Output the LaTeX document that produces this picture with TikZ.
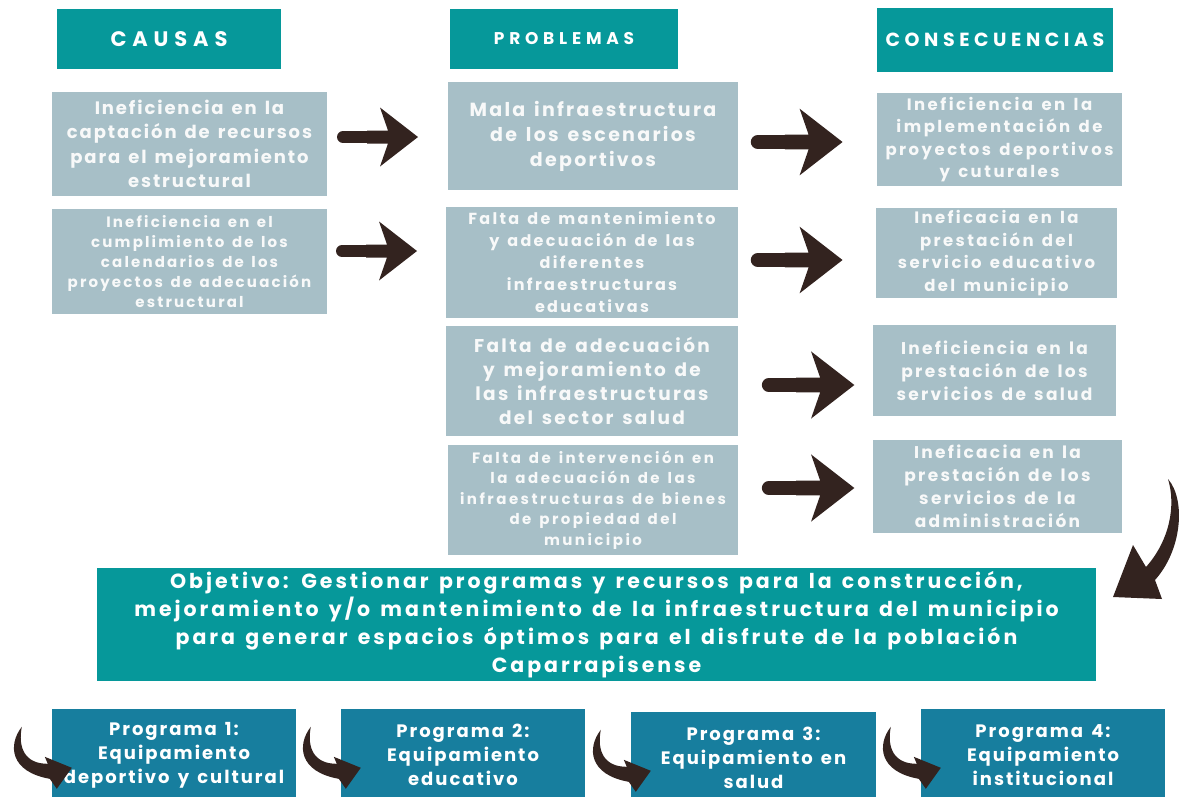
\documentclass[tikz,border=0pt]{standalone}
\usepackage{fontspec}
\setmainfont{Poppins}[LetterSpace=6,WordSpace=1.4]
\usetikzlibrary{calc}
\definecolor{teal1}{RGB}{6,152,154}
\definecolor{gboxc}{RGB}{167,191,199}
\definecolor{progc}{RGB}{23,126,158}
\definecolor{arrc}{RGB}{51,35,31}
\definecolor{txtw}{RGB}{248,249,249}
\newcommand{\ls}[1]{\addfontfeature{LetterSpace=#1}}
\tikzset{
  hdr/.style={fill=teal1, text=white, inner sep=0pt, align=center},
  gb/.style={fill=gboxc, text=txtw, inner sep=0pt, align=center},
  objbox/.style={fill=teal1, text=white, inner sep=0pt, align=center,
    font=\bfseries\fontsize{20.5}{28}\selectfont\ls{14.5}},
  progbox/.style={fill=progc, text=white, inner sep=0pt, align=center,
    font=\bfseries\fontsize{18}{24}\selectfont\ls{11}},
  blockarr/.pic={
    \fill[arrc] (30,-6.5) -- (51,-6.5) -- (43,-29.5) -- (81,0) -- (43,29.5) -- (51,6.5) -- (30,6.5) -- cycle;
    \draw[arrc, line cap=round] (6,0) -- (40,0);
  },
  smallcurve/.pic={
    \fill[arrc] (-30,18) .. controls (-44,36) and (-42,63) .. (-2,70) -- (5,80) -- (20,59) -- (-7,48) -- (-4,55) .. controls (-27,55) and (-34,39) .. (-30,18) -- cycle;
  }
}
\begin{document}
\begin{tikzpicture}[x=1pt,y=-1pt]
\useasboundingbox (0,0) rectangle (1188,796);
\fill[white] (0,0) rectangle (1188,796);

% headers
\node[hdr, minimum width=224, minimum height=60, font=\bfseries\fontsize{21}{24}\selectfont\ls{28}] (hc) at (169,39) {CAUSAS};
\node[hdr, minimum width=228, minimum height=60, font=\bfseries\fontsize{17}{20}\selectfont\ls{28}] (hp) at (564,39) {PROBLEMAS};
\node[hdr, minimum width=236, minimum height=64, font=\bfseries\fontsize{19}{24}\selectfont\ls{24}] (hq) at (995,40) {CONSECUENCIAS};

% causes
\node[gb, minimum width=275, minimum height=104, font=\bfseries\fontsize{18}{24.5}\selectfont\ls{10.5}] (c1) at (189.5,144)
 {Ineficiencia en la\\captación de recursos\\para el mejoramiento\\estructural};
\node[gb, minimum width=275, minimum height=105, font=\bfseries\fontsize{15}{20}\selectfont\ls{14.5}] (c2) at (189.5,261.5)
 {Ineficiencia en el\\cumplimiento de los\\calendarios de los\\proyectos de adecuación\\estructural};

% problems
\node[gb, minimum width=290, minimum height=108, font=\bfseries\fontsize{19}{25}\selectfont\ls{12}] (p1) at (593,136)
 {Mala infraestructura\\de los escenarios\\deportivos};
\node[gb, minimum width=292, minimum height=111, font=\bfseries\fontsize{16}{22}\selectfont\ls{14.5}] (p2) at (592,262.5)
 {Falta de mantenimiento\\y adecuación de las\\diferentes\\infraestructuras\\educativas};
\node[gb, minimum width=292, minimum height=110, font=\bfseries\fontsize{18.5}{24}\selectfont\ls{12.5}] (p3) at (592,381)
 {Falta de adecuación\\y mejoramiento de\\las infraestructuras\\del sector salud};
\node[gb, minimum width=290, minimum height=110, font=\bfseries\fontsize{15}{20.5}\selectfont\ls{16.5}] (p4) at (593,500)
 {Falta de intervención en\\la adecuación de las\\infraestructuras de bienes\\de propiedad del\\municipio};

% consequences
\node[gb, minimum width=245, minimum height=93, font=\bfseries\fontsize{16.5}{22.3}\selectfont\ls{15}] (q1) at (999.5,139.5)
 {Ineficiencia en la\\implementación de\\proyectos deportivos\\y cuturales};
\node[gb, minimum width=241, minimum height=90, font=\bfseries\fontsize{16.5}{22.5}\selectfont\ls{14.5}] (q2) at (996.5,253)
 {Ineficacia en la\\prestación del\\servicio educativo\\del municipio};
\node[gb, minimum width=243, minimum height=91, font=\bfseries\fontsize{17}{23}\selectfont\ls{13.5}] (q3) at (994.5,370.5)
 {Ineficiencia en la\\prestación de los\\servicios de salud};
\node[gb, minimum width=249, minimum height=93, font=\bfseries\fontsize{17}{23}\selectfont\ls{13.5}] (q4) at (997.5,486.5)
 {Ineficacia en la\\prestación de los\\servicios de la\\administración};

% objective
\node[objbox, minimum width=999, minimum height=113] (obj) at (596.5,624.5)
 {Objetivo: Gestionar programas y recursos para la construcción,\\mejoramiento y/o mantenimiento de la infraestructura del municipio\\para generar espacios óptimos para el disfrute de la población\\Caparrapisense};

% programs
\node[progbox, minimum width=244, minimum height=92] (g1) at (174,755) {Programa 1:\\Equipamiento\\deportivo y cultural};
\node[progbox, minimum width=244, minimum height=92] (g2) at (463,755) {Programa 2:\\Equipamiento\\educativo};
\node[progbox, minimum width=245, minimum height=92] (g3) at (753.5,758) {Programa 3:\\Equipamiento en\\salud};
\node[progbox, minimum width=244, minimum height=92] (g4) at (1043,755) {Programa 4:\\Equipamiento\\institucional};

% straight block arrows
\pic[line width=12pt] at (337,137) {blockarr};
\pic[line width=12pt] at (336,251) {blockarr};
\pic[scale=1.13, line width=14pt] at (751,142) {blockarr};
\pic[scale=1.13, line width=14pt] at (751,260) {blockarr};
\pic[scale=1.14, line width=14pt] at (762,385) {blockarr};
\pic[scale=1.14, line width=14pt] at (762,488) {blockarr};

% big curved arrow to objective
\fill[arrc] (1168,479) .. controls (1186,500) and (1182,550) .. (1155,580) -- (1162,599) -- (1113,597) -- (1133,545) -- (1146,567) .. controls (1170,540) and (1176,505) .. (1168,479) -- cycle;

% small curved arrows into programs
\pic at (g1.north west) {smallcurve};
\pic at (g2.north west) {smallcurve};
\pic at (g3.north west) {smallcurve};
\pic at (g4.north west) {smallcurve};
\end{tikzpicture}
\end{document}
